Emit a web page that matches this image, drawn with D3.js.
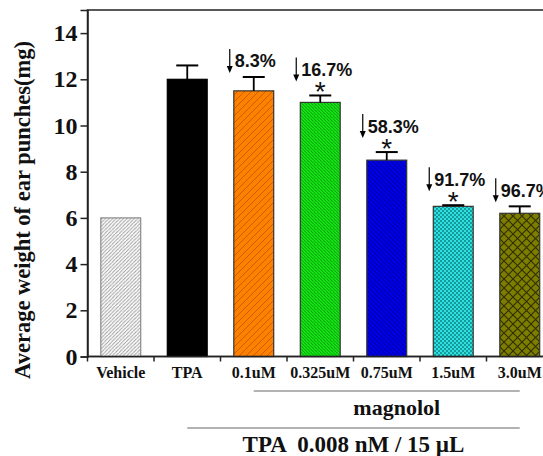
<!DOCTYPE html>
<html><head><meta charset="utf-8">
<script src="https://cdn.jsdelivr.net/npm/d3@7"></script>
<style>html,body{margin:0;padding:0;background:#fff;overflow:hidden}</style>
</head><body>
<svg id="c" width="543" height="456"></svg>
<script>
const categories = ["Vehicle","TPA","0.1uM","0.325uM","0.75uM","1.5uM","3.0uM"];
const values = [6.0, 12.0, 11.5, 11.0, 8.5, 6.5, 6.2];
const errors = [0, 0.6, 0.6, 0.3, 0.35, 0.05, 0.3];
const reductions = ["", "", "8.3%", "16.7%", "58.3%", "91.7%", "96.7%"];
const significant = [false, false, false, true, true, true, false];
const yTicks = [0,2,4,6,8,10,12,14];
const yTitle = "Average weight of ear punches(mg)";
const groupLabel1 = "magnolol";
const groupLabel2 = "TPA  0.008 nM / 15 \u00b5L";

const svg = d3.select("#c");
const serif = "'Liberation Serif','Times New Roman',serif";
const sans = "'Liberation Sans',Arial,sans-serif";

const x = d3.scaleBand().domain(categories).range([87.5, 553]).paddingInner(0.4).paddingOuter(0.2);
const y = d3.scaleLinear().domain([0, 15]).range([356.5, 10]);

// patterns
const defs = svg.append("defs");
function linePattern(id, bg, fg, size, dir, sw) {
  const p = defs.append("pattern").attr("id", id).attr("patternUnits","userSpaceOnUse")
    .attr("width", size).attr("height", size);
  p.append("rect").attr("width", size).attr("height", size).attr("fill", bg);
  const d = dir > 0
    ? `M0,${size} L${size},0 M${-size},${size} L0,0 M${size},${2*size} L${2*size},${size}`
    : `M0,0 L${size},${size} M${-size},0 L0,${size} M${size},${-size} L${2*size},0`;
  p.append("path").attr("d", d).attr("stroke", fg).attr("stroke-width", sw);
  return `url(#${id})`;
}
const fills = [];
fills.push(linePattern("pVeh", "#ffffff", "#9a9a9a", 3.6, 1, 1));
fills.push("#000000");
fills.push(linePattern("pOr", "#ff8000", "#b35a00", 7, 1, 0.8));
fills.push(linePattern("pGr", "#14f014", "#0b8f0b", 3.2, -1, 0.9));
fills.push(linePattern("pBl", "#0000f0", "#000090", 4.5, -1, 1.1));
(function(){
  const p = defs.append("pattern").attr("id","pCy").attr("patternUnits","userSpaceOnUse").attr("width",4).attr("height",4);
  p.append("rect").attr("width",4).attr("height",4).attr("fill","#2ee0e0");
  p.append("rect").attr("width",2).attr("height",2).attr("fill","#169a9a");
  p.append("rect").attr("x",2).attr("y",2).attr("width",2).attr("height",2).attr("fill","#169a9a");
  fills.push("url(#pCy)");
})();
(function(){
  const s = 9;
  const p = defs.append("pattern").attr("id","pOl").attr("patternUnits","userSpaceOnUse").attr("width",s).attr("height",s);
  p.append("rect").attr("width",s).attr("height",s).attr("fill","#7d7d00");
  p.append("path").attr("d",`M0,0 L${s},${s} M0,${s} L${s},0`).attr("stroke","#2e2e00").attr("stroke-width",1.1);
  fills.push("url(#pOl)");
})();
const strokes = ["#8a8a8a","#000","#333","#333","#333","#333","#333"];

// frame
svg.append("rect").attr("x", 87.5).attr("y", y(15)).attr("width", 553-87.5).attr("height", y(0)-y(15))
  .attr("fill","none").attr("stroke","#222").attr("stroke-width",1.5);

// bars
svg.selectAll(".bar").data(categories).enter().append("rect")
  .attr("x", d => x(d)).attr("width", x.bandwidth())
  .attr("y", (d,i) => y(values[i])).attr("height", (d,i) => y(0) - y(values[i]))
  .attr("fill", (d,i) => fills[i]).attr("stroke", (d,i) => strokes[i]).attr("stroke-width", 1.2);

// error bars
categories.forEach((c,i) => {
  if (!errors[i]) return;
  const cx = x(c) + x.bandwidth()/2;
  svg.append("line").attr("x1",cx).attr("x2",cx).attr("y1",y(values[i])).attr("y2",y(values[i]+errors[i]))
    .attr("stroke","#000").attr("stroke-width",1.8);
  svg.append("line").attr("x1",cx-11).attr("x2",cx+11).attr("y1",y(values[i]+errors[i])).attr("y2",y(values[i]+errors[i]))
    .attr("stroke","#000").attr("stroke-width",2);
});

// annotations
categories.forEach((c,i) => {
  if (!reductions[i]) return;
  const cx = x(c) + x.bandwidth()/2;
  const cap = y(values[i] + errors[i]);
  const ty = cap - (significant[i] ? 26 : 16);
  const ax = cx - 24;
  svg.append("line").attr("x1",ax).attr("x2",ax).attr("y1",ty-12).attr("y2",ty+6)
    .attr("stroke","#000").attr("stroke-width",1.2);
  svg.append("path").attr("d",`M${ax-3},${ty+5} L${ax+3},${ty+5} L${ax},${ty+12} Z`).attr("fill","#000");
  svg.append("text").attr("x",ax+5).attr("y",ty).attr("dy","0.36em")
    .attr("font-family",sans).attr("font-weight","bold").attr("font-size",18).attr("fill","#111")
    .text(reductions[i]);
  if (significant[i]) {
    svg.append("text").attr("x",cx).attr("y",cap - 10 + 16).attr("text-anchor","middle")
      .attr("font-family",sans).attr("font-size",28).attr("fill","#111")
      .text("*");
  }
});

// y axis
const yAxis = svg.append("g").attr("transform","translate(87.5,0)")
  .call(d3.axisLeft(y).tickValues(yTicks).tickSize(7).tickPadding(3).tickFormat(d3.format("d")));
yAxis.attr("font-family", null);
yAxis.select(".domain").attr("stroke","#222").attr("stroke-width",1.5);
yAxis.selectAll(".tick line").attr("stroke","#222").attr("stroke-width",1.5);
yAxis.selectAll("text").attr("font-family",serif).attr("font-weight","bold").attr("font-size",24).attr("fill","#111");

// x axis
const boundaries = categories.map(c => x(c) - x.step()*0.2);
const xg = svg.append("g");
xg.selectAll("line").data(boundaries).enter().append("line")
  .attr("x1",d=>d).attr("x2",d=>d).attr("y1",y(0)).attr("y2",y(0)+5).attr("stroke","#222").attr("stroke-width",1.5);
xg.append("line").attr("x1",87.5).attr("x2",553).attr("y1",y(0)).attr("y2",y(0)).attr("stroke","#222").attr("stroke-width",1.5);
xg.selectAll("text").data(categories).enter().append("text")
  .attr("x", d => x(d) + x.bandwidth()/2).attr("y", y(0) + 21).attr("text-anchor","middle")
  .attr("font-family",serif).attr("font-weight","bold").attr("font-size",16).attr("fill","#111")
  .text(d => d);

// y title
svg.append("text").attr("transform",`translate(30,210) rotate(-90)`).attr("text-anchor","middle")
  .attr("font-family",serif).attr("font-weight","bold").attr("font-size",22.5).attr("fill","#111")
  .text(yTitle);

// group brackets
const c0 = x(categories[2]) + x.bandwidth()/2, c1 = x(categories[6]) + x.bandwidth()/2, cT = x(categories[1]) + x.bandwidth()/2;
svg.append("line").attr("x1",c0).attr("x2",c1).attr("y1",391).attr("y2",391).attr("stroke","#999").attr("stroke-width",1.5);
svg.append("text").attr("x",(c0+c1)/2 + 10).attr("y",415).attr("text-anchor","middle")
  .attr("font-family",serif).attr("font-weight","bold").attr("font-size",22).attr("fill","#111").text(groupLabel1);
svg.append("line").attr("x1",cT).attr("x2",c1).attr("y1",428).attr("y2",428).attr("stroke","#999").attr("stroke-width",1.5);
svg.append("text").attr("x",(cT+c1)/2).attr("y",452).attr("text-anchor","middle")
  .attr("font-family",serif).attr("font-weight","bold").attr("font-size",23).attr("fill","#111")
  .attr("xml:space","preserve").style("white-space","pre").text(groupLabel2);
</script>
</body></html>
